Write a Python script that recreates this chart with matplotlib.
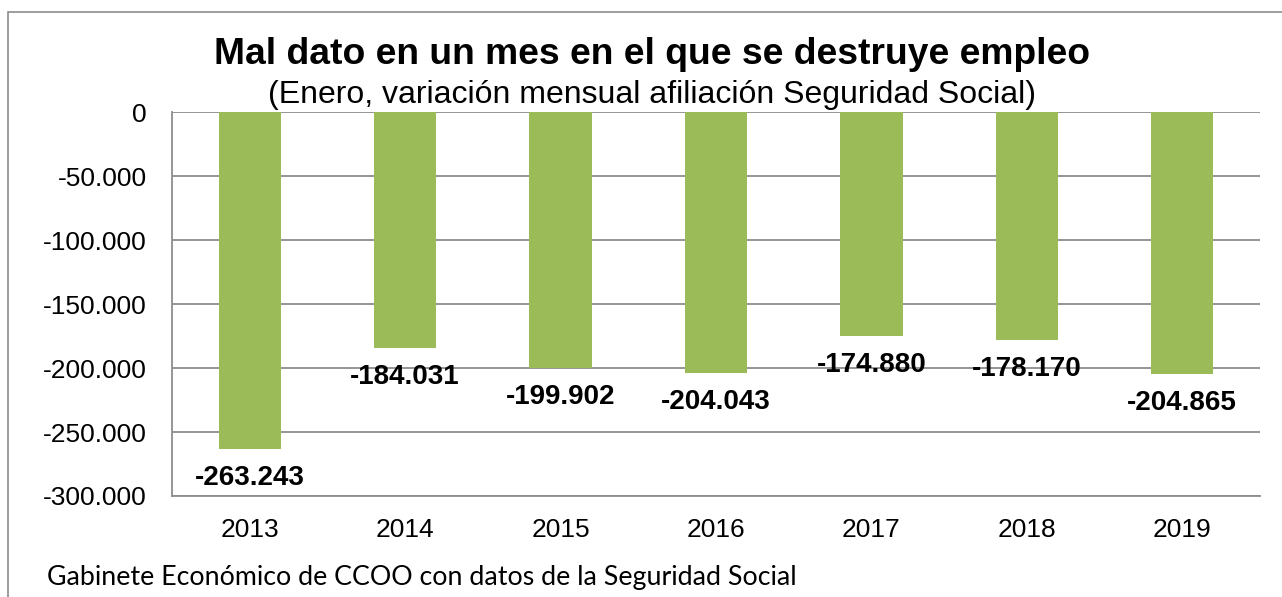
import numpy as np
import matplotlib.pyplot as plt
from matplotlib.patches import Rectangle
from matplotlib.ticker import FuncFormatter

years = ['2013', '2014', '2015', '2016', '2017', '2018', '2019']
values = [-263243, -184031, -199902, -204043, -174880, -178170, -204865]

plt.rcParams['font.family'] = ['Liberation Sans', 'DejaVu Sans']

fig = plt.figure(figsize=(12.82, 5.97), dpi=100)
# outer frame of the chart (cut at right/bottom like the original)
fig.patches.append(Rectangle((8 / 1282, -0.05), 1.2, 1 - 12 / 597 + 0.05,
                             transform=fig.transFigure, fill=False,
                             edgecolor='#8c8c8c', linewidth=1.2))

ax = fig.add_axes([172 / 1282, 1 - 496 / 597, (1260 - 172) / 1282, (496 - 112) / 597])
x = np.arange(len(years))
ax.bar(x, values, width=0.4, color='#9bbb59', zorder=3)

for xi, v in zip(x, values):
    lab = '{:,}'.format(v).replace(',', '.')
    ax.annotate(lab, (xi, v), xytext=(0, -21), textcoords='offset points',
                ha='center', va='center', fontsize=20, fontweight='bold')

ax.set_xlim(-0.5, len(years) - 0.5)
ax.set_ylim(-300000, 0)
ax.set_yticks(np.arange(-300000, 1, 50000))
ax.yaxis.set_major_formatter(FuncFormatter(lambda v, p: '{:,.0f}'.format(v).replace(',', '.')))
ax.set_xticks(x)
ax.set_xticklabels(years)
ax.tick_params(axis='both', length=0, labelsize=19)
ax.tick_params(axis='y', pad=18)
ax.tick_params(axis='x', pad=16)
ax.grid(axis='y', color='#8c8c8c', linewidth=1.3, zorder=0)
ax.set_axisbelow(True)
for s in ['top', 'right']:
    ax.spines[s].set_visible(False)
for s in ['left', 'bottom']:
    ax.spines[s].set_color('#8c8c8c')
    ax.spines[s].set_linewidth(1.3)

fig.text(652 / 1282, 1 - 55 / 597, 'Mal dato en un mes en el que se destruye empleo',
         ha='center', va='center', fontsize=26.8, fontweight='bold')
fig.text(652 / 1282, 1 - 95 / 597, '(Enero, variación mensual afiliación Seguridad Social)',
         ha='center', va='center', fontsize=23)
fig.text(47 / 1282, 1 - 578 / 597, 'Gabinete Económico de CCOO con datos de la Seguridad Social',
         ha='left', va='center', fontsize=19.3, family=['Lato', 'DejaVu Sans'])

fig.savefig('out.png', dpi=100)
